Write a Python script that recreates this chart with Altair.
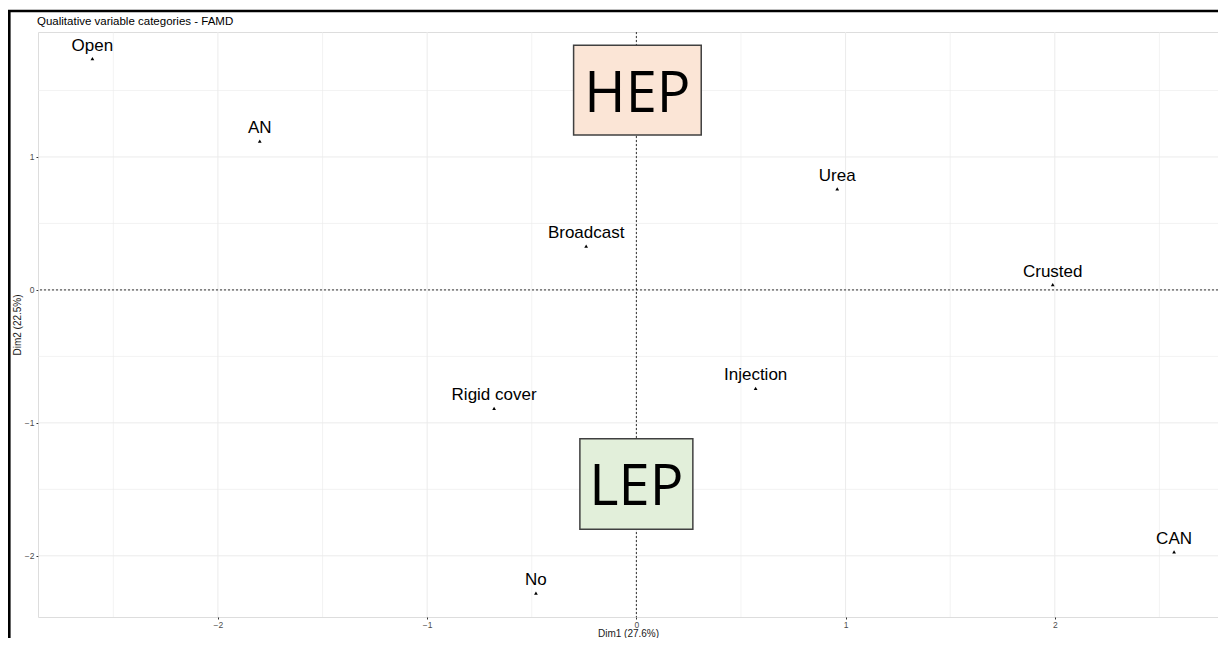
import altair as alt
import pandas as pd

# Category coordinates (FAMD qualitative variable categories)
labels = ["Open", "AN", "Urea", "Broadcast", "Crusted", "Injection", "Rigid cover", "CAN", "No"]
dim1 = [-2.60, -1.80, 0.96, -0.24, 1.99, 0.57, -0.68, 2.57, -0.48]
dim2 = [1.74, 1.12, 0.76, 0.33, 0.04, -0.74, -0.89, -1.97, -2.28]

# Grid values
x_major = [-2, -1, 0, 1, 2]
x_minor = [-2.5, -1.5, -0.5, 0.5, 1.5, 2.5]
y_major = [-2, -1, 0, 1]
y_minor = [-1.5, -0.5, 0.5, 1.5]

# Annotation boxes
box_text = ["HEP", "LEP"]
box_x1 = [-0.30, -0.27]
box_x2 = [0.31, 0.27]
box_y1 = [1.165, -1.80]
box_y2 = [1.84, -1.12]
box_text_y = [1.335, -1.62]
box_fill = ["#FBE5D6", "#E2EFDA"]

title_text = "Qualitative variable categories - FAMD"

x_dom = [-2.86, 2.78]
y_dom = [-2.46, 1.94]

pts = pd.DataFrame({"label": labels, "d1": dim1, "d2": dim2})
boxes = pd.DataFrame({"t": box_text, "x1": box_x1, "x2": box_x2, "y1": box_y1,
                      "y2": box_y2, "ty": box_text_y, "fill": box_fill,
                      "tx": [(a + b) / 2 for a, b in zip(box_x1, box_x2)]})

xs = alt.Scale(domain=x_dom, nice=False, zero=False)
ys = alt.Scale(domain=y_dom, nice=False, zero=False)

axis_common = dict(grid=False, domain=False, tickColor="#333333", tickSize=2, tickWidth=1,
                   labelFontSize=8.5, labelColor="#4D4D4D", labelFont="Liberation Sans",
                   titleFont="Liberation Sans", titleFontSize=10, titleFontWeight="normal",
                   titleColor="#1A1A1A")
x_axis = alt.Axis(values=x_major, title="Dim1 (27.6%)", labelPadding=1, titlePadding=0, **axis_common)
y_axis = alt.Axis(values=y_major, title="Dim2 (22.5%)", labelPadding=2, titlePadding=2, **axis_common)


def X(field):
    return alt.X(field, scale=xs, axis=x_axis)


def Y(field):
    return alt.Y(field, scale=ys, axis=y_axis)


grid_col = "#EBEBEB"

gx_major = alt.Chart(pd.DataFrame({"v": x_major})).mark_rule(color=grid_col, strokeWidth=1).encode(x=X("v:Q"))
gx_minor = alt.Chart(pd.DataFrame({"v": x_minor})).mark_rule(color=grid_col, strokeWidth=0.6).encode(x=X("v:Q"))
gy_major = alt.Chart(pd.DataFrame({"v": y_major})).mark_rule(color=grid_col, strokeWidth=1).encode(y=Y("v:Q"))
gy_minor = alt.Chart(pd.DataFrame({"v": y_minor})).mark_rule(color=grid_col, strokeWidth=0.6).encode(y=Y("v:Q"))

zero_x = alt.Chart(pd.DataFrame({"v": [0]})).mark_rule(color="black", strokeWidth=0.8, strokeDash=[2, 2]).encode(
    x=X("v:Q"))
zero_y = alt.Chart(pd.DataFrame({"v": [0]})).mark_rule(color="black", strokeWidth=0.8, strokeDash=[2, 2]).encode(
    y=Y("v:Q"))

points = alt.Chart(pts).mark_point(shape="triangle-up", filled=True, color="black", size=14, opacity=1).encode(
    x=X("d1:Q"), y=Y("d2:Q"))

texts = alt.Chart(pts).mark_text(font="Liberation Sans", fontSize=17, color="black",
                                 baseline="alphabetic", dy=-8).encode(
    x=X("d1:Q"), y=Y("d2:Q"), text="label:N")

rects = alt.Chart(boxes).mark_rect(stroke="#404040", strokeWidth=1.5).encode(
    x=X("x1:Q"), x2="x2:Q",
    y=Y("y1:Q"), y2="y2:Q",
    fill=alt.Fill("fill:N", scale=None))

box_labels = alt.Chart(boxes).mark_text(font="Open Sans", fontSize=56, color="black",
                                        baseline="alphabetic").encode(
    x=X("tx:Q"), y=Y("ty:Q"), text="t:N")

title_mark = alt.Chart(pd.DataFrame({"t": [title_text]})).mark_text(
    font="Liberation Sans", fontSize=11.5, color="black", align="left", baseline="middle").encode(
    x=alt.value(-1), y=alt.value(-10), text="t:N")

frame = alt.Chart(pd.DataFrame({"a": [0]})).mark_rect(filled=False, stroke="black", strokeWidth=2.6).encode(
    x=alt.value(-28.7), x2=alt.value(1300), y=alt.value(-21), y2=alt.value(750))

chart = alt.layer(
    gx_minor, gy_minor, gx_major, gy_major, zero_x, zero_y,
    points, texts, rects, box_labels, title_mark, frame
).properties(
    width=1180, height=585,
    padding={"left": 30, "top": 24, "right": 0, "bottom": 21},
    autosize=alt.AutoSizeParams(type="none"),
).configure_view(strokeWidth=0).configure(background="white")

chart.save("out.html", embed_options={"renderer": "svg", "actions": False})
